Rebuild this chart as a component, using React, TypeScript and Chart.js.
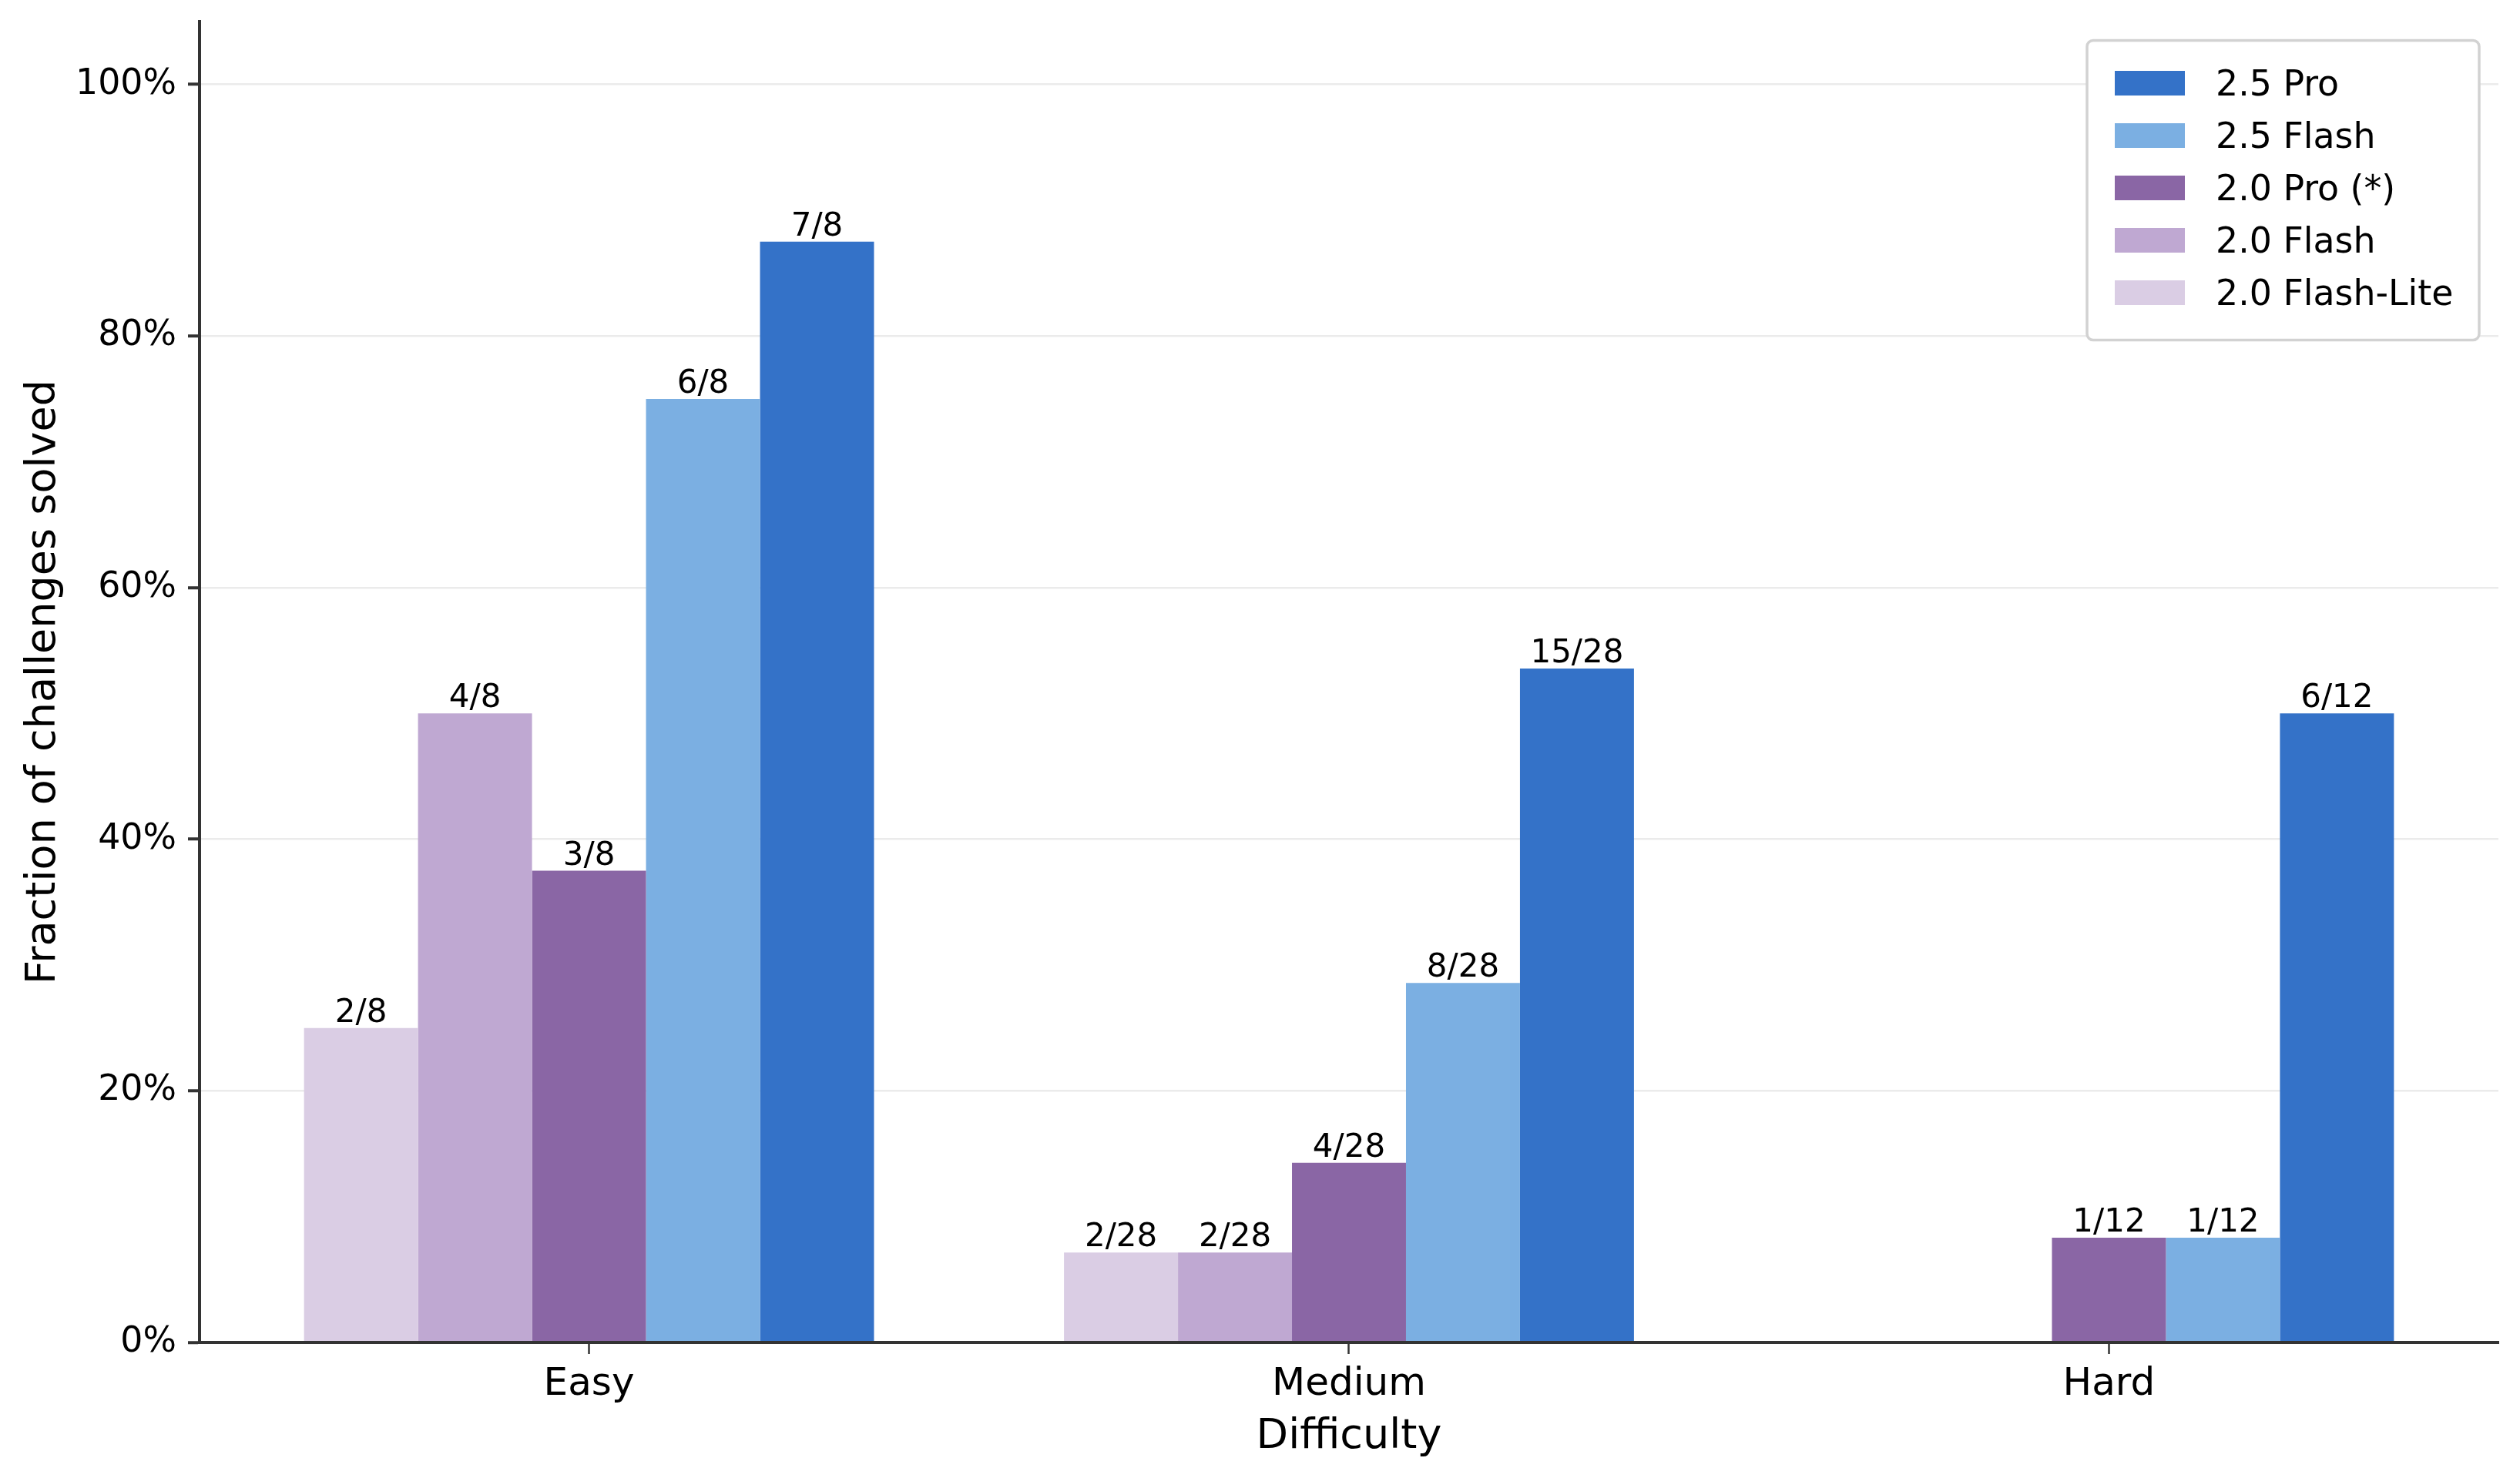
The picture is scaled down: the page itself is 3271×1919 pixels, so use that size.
import React, { useEffect, useRef } from "react";
import { Chart, registerables } from "chart.js";

Chart.register(...registerables);

const FONT = "'DejaVu Sans', 'Liberation Sans', sans-serif";

const categories = ["Easy", "Medium", "Hard"];
const totals = [8, 28, 12];

// bar order left -> right inside each group
const seriesNames = ["2.0 Flash-Lite", "2.0 Flash", "2.0 Pro (*)", "2.5 Flash", "2.5 Pro"];
const flashLite20Solved = [2, 2, 0];
const flash20Solved = [4, 2, 0];
const pro20Solved = [3, 4, 1];
const flash25Solved = [6, 8, 1];
const pro25Solved = [7, 15, 6];
const seriesColors = ["#DACDE4", "#BFA8D2", "#8A66A5", "#7BAFE2", "#3472C8"];

const yTickValues = [0, 0.2, 0.4, 0.6, 0.8, 1.0];

const solvedBySeries = [flashLite20Solved, flash20Solved, pro20Solved, flash25Solved, pro25Solved];

const labelPlugin = {
  id: "barLabels",
  afterDatasetsDraw(chart: any) {
    const ctx = chart.ctx;
    ctx.save();
    ctx.font = `42px ${FONT}`;
    ctx.fillStyle = "#000";
    ctx.textAlign = "center";
    ctx.textBaseline = "alphabetic";
    chart.data.datasets.forEach((ds: any, di: number) => {
      const meta = chart.getDatasetMeta(di);
      meta.data.forEach((el: any, j: number) => {
        const solved = solvedBySeries[di][j];
        if (solved > 0) {
          ctx.fillText(`${solved}/${totals[j]}`, el.x, el.y - 8);
        }
      });
    });
    ctx.restore();
  },
};

const legendPlugin = {
  id: "boxLegend",
  afterDraw(chart: any) {
    const ctx = chart.ctx;
    const area = chart.chartArea;
    const w = 509;
    const h = 389;
    const right = area.right - 25;
    const left = right - w;
    const top = area.top + 24.5;
    ctx.save();
    ctx.beginPath();
    ctx.roundRect(left, top, w, h, 8);
    ctx.fillStyle = "#ffffff";
    ctx.fill();
    ctx.lineWidth = 3.5;
    ctx.strokeStyle = "#d2d2d2";
    ctx.stroke();
    ctx.font = `45.8px ${FONT}`;
    ctx.textAlign = "left";
    ctx.textBaseline = "alphabetic";
    const order = [4, 3, 2, 1, 0];
    order.forEach((si, k) => {
      const cy = top + 55.5 + k * 68;
      ctx.fillStyle = seriesColors[si];
      ctx.fillRect(left + 36, cy - 16, 91, 32);
      ctx.fillStyle = "#000";
      ctx.fillText(seriesNames[si], left + 167, cy + 16);
    });
    ctx.restore();
  },
};

export default function App() {
  const canvasRef = useRef<HTMLCanvasElement | null>(null);

  useEffect(() => {
    if (!canvasRef.current) return;
    Chart.defaults.font.family = FONT;
    Chart.defaults.color = "#000";
    const datasets = seriesNames.map((name, si) => ({
      label: name,
      data: solvedBySeries[si].map((s, i) => ({ x: i, y: s / totals[i] })),
      backgroundColor: seriesColors[si],
      borderWidth: 0,
      categoryPercentage: 0.75,
      barPercentage: 1.0,
    }));
    const chart = new Chart(canvasRef.current, {
      type: "bar",
      data: { datasets } as any,
      options: {
        animation: false,
        responsive: true,
        maintainAspectRatio: false,
        devicePixelRatio: 1,
        layout: { padding: { left: 0, right: 28, top: 28, bottom: 0 } },
        plugins: {
          legend: { display: false },
          tooltip: { enabled: false },
        },
        scales: {
          x: {
            type: "linear",
            min: -0.5125,
            max: 2.5125,
            offset: false,
            afterBuildTicks: (s: any) => {
              s.ticks = categories.map((_, i) => ({ value: i }));
            },
            afterFit: (s: any) => {
              s.height = 176;
              s.paddingLeft = 0;
              s.paddingRight = 0;
            },
            ticks: {
              callback: (v: any) => categories[v as number] ?? "",
              font: { family: FONT, size: 50 },
              color: "#000",
              padding: 10,
              maxRotation: 0,
              autoSkip: false,
            },
            grid: {
              offset: false,
              drawOnChartArea: false,
              drawTicks: true,
              tickLength: 15,
              tickColor: "#333333",
              tickWidth: 2.5,
            },
            border: { color: "#333333", width: 4, z: 1 },
            title: {
              display: true,
              text: "Difficulty",
              font: { family: FONT, size: 54 },
              color: "#000",
              padding: { top: 0, bottom: 21 },
            },
          },
          y: {
            type: "linear",
            min: 0,
            max: 1.05,
            afterBuildTicks: (s: any) => {
              s.ticks = yTickValues.map((v) => ({ value: v }));
            },
            afterFit: (s: any) => {
              s.width = 259;
              s.paddingTop = 0;
              s.paddingBottom = 0;
            },
            ticks: {
              callback: (v: any) => `${Math.round((v as number) * 100)}%`,
              font: { family: FONT, size: 45.8 },
              color: "#000",
              padding: 15,
            },
            grid: {
              color: "#ebebeb",
              lineWidth: 2.5,
              drawTicks: true,
              tickLength: 15,
              tickColor: "#333333",
              tickWidth: 4,
            },
            border: { color: "#333333", width: 4, z: 1 },
            title: {
              display: true,
              text: "Fraction of challenges solved",
              font: { family: FONT, size: 54 },
              color: "#000",
              padding: { top: 25, bottom: 0 },
            },
          },
        },
      } as any,
      plugins: [labelPlugin, legendPlugin],
    });
    return () => chart.destroy();
  }, []);

  return (
    <div
      style={{
        position: "fixed",
        left: 0,
        top: 0,
        width: "100vw",
        height: "100vh",
        background: "#ffffff",
      }}
    >
      <canvas ref={canvasRef} />
    </div>
  );
}
